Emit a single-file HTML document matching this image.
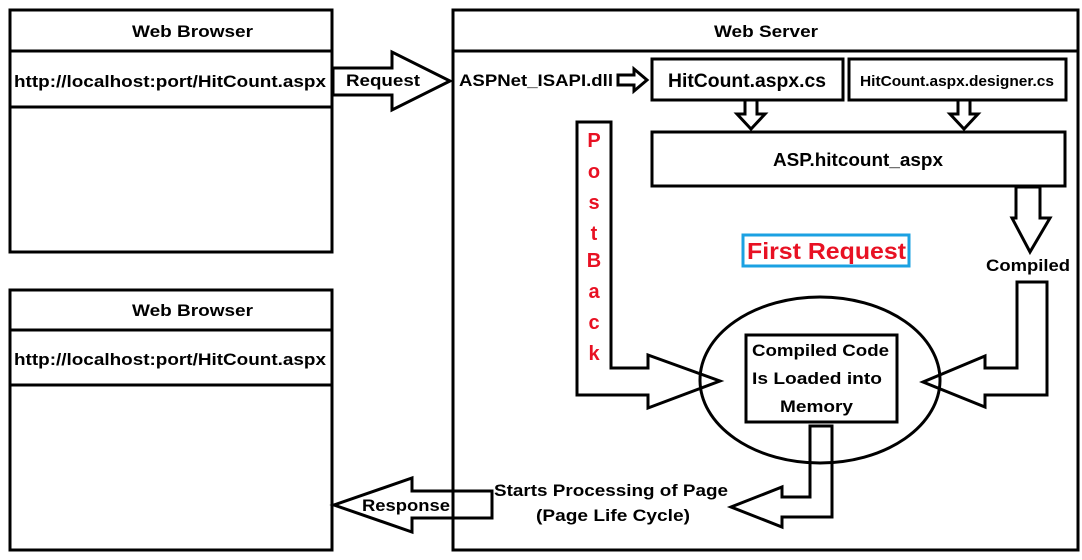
<!DOCTYPE html>
<html><head><meta charset="utf-8"><style>
html,body{margin:0;padding:0;background:#fff;}
svg{display:block;}
text{font-family:"Liberation Sans",Arial,sans-serif;font-weight:bold;fill:#000;}
</style></head><body>
<svg width="1082" height="560" viewBox="0 0 1082 560" xmlns="http://www.w3.org/2000/svg">
<g fill="none" stroke="#000" stroke-width="3">
<rect x="10" y="10" width="322" height="242"/>
<line x1="10" y1="51" x2="332" y2="51"/>
<line x1="10" y1="107" x2="332" y2="107"/>
<rect x="10" y="290" width="322" height="260"/>
<line x1="10" y1="330" x2="332" y2="330"/>
<line x1="10" y1="385" x2="332" y2="385"/>
<rect x="453" y="10" width="625" height="540"/>
<line x1="453" y1="51" x2="1078" y2="51"/>
<path d="M333,68 L392,68 L392,52 L450,81 L392,110 L392,95 L333,95 Z" fill="#fff"/>
<path d="M618,75 L634,75 L634,69 L647,80 L634,91 L634,85 L618,85 Z" fill="#fff"/>
<rect x="652" y="59" width="191" height="41"/>
<rect x="849" y="59" width="217" height="41"/>
<rect x="652" y="132" width="413" height="54"/>
<path d="M745,100 L757,100 L757,114 L765,114 L751,129 L737,114 L745,114 Z" fill="#fff"/>
<path d="M958,100 L970,100 L970,114 L978,114 L964,129 L950,114 L958,114 Z" fill="#fff"/>
<path d="M1016,187 L1040,187 L1040,218 L1050,218 L1030,252 L1012,218 L1016,218 Z" fill="#fff"/>
<ellipse cx="820" cy="380" rx="120" ry="83" stroke-width="3"/>
<path d="M577,122 L611,122 L611,368 L648,368 L648,355 L720,381 L648,408 L648,395 L577,395 Z"/>
<path d="M1047,282 L1017,282 L1017,368 L985,368 L985,356 L923,382 L985,407 L985,395 L1047,395 Z"/>
<rect x="746" y="335" width="151" height="87" fill="#fff"/>
<path d="M810,426 L832,426 L832,517 L782,517 L782,527 L731,507 L782,487 L782,497 L810,497 Z"/>
<path d="M492,491 L412,491 L412,478 L334,505 L412,532 L412,518 L492,518 Z"/>
</g>
<rect x="743" y="235" width="166" height="31" fill="#fff" stroke="#1ba1e2" stroke-width="3"/>
<text x="747" y="259" font-size="23" textLength="159" lengthAdjust="spacingAndGlyphs" style="fill:#e81123">First Request</text>

<text x="132" y="37" font-size="17" textLength="121" lengthAdjust="spacingAndGlyphs">Web Browser</text>
<text x="14" y="87" font-size="17" textLength="312" lengthAdjust="spacingAndGlyphs">http://localhost:port/HitCount.aspx</text>
<text x="132" y="316" font-size="17" textLength="121" lengthAdjust="spacingAndGlyphs">Web Browser</text>
<text x="14" y="365" font-size="17" textLength="312" lengthAdjust="spacingAndGlyphs">http://localhost:port/HitCount.aspx</text>
<text x="714" y="37" font-size="17" textLength="104" lengthAdjust="spacingAndGlyphs">Web Server</text>
<text x="346" y="86" font-size="17" textLength="74" lengthAdjust="spacingAndGlyphs">Request</text>
<text x="459" y="86" font-size="17" textLength="154" lengthAdjust="spacingAndGlyphs">ASPNet_ISAPI.dll</text>
<text x="668" y="87" font-size="19" textLength="158" lengthAdjust="spacingAndGlyphs">HitCount.aspx.cs</text>
<text x="860" y="86" font-size="15" textLength="194" lengthAdjust="spacingAndGlyphs">HitCount.aspx.designer.cs</text>
<text x="773" y="166" font-size="18" textLength="170" lengthAdjust="spacingAndGlyphs">ASP.hitcount_aspx</text>
<text x="986" y="271" font-size="17" textLength="84" lengthAdjust="spacingAndGlyphs">Compiled</text>
<text x="752" y="356" font-size="17" textLength="137" lengthAdjust="spacingAndGlyphs">Compiled Code</text>
<text x="752" y="384" font-size="17" textLength="130" lengthAdjust="spacingAndGlyphs">Is Loaded into</text>
<text x="780" y="412" font-size="17" textLength="73" lengthAdjust="spacingAndGlyphs">Memory</text>
<text x="494" y="496" font-size="17" textLength="234" lengthAdjust="spacingAndGlyphs">Starts Processing of Page</text>
<text x="536" y="521" font-size="17" textLength="154" lengthAdjust="spacingAndGlyphs">(Page Life Cycle)</text>
<text x="362" y="511" font-size="17" textLength="88" lengthAdjust="spacingAndGlyphs">Response</text>
<g font-size="20" text-anchor="middle">
<text x="594" y="147" style="fill:#e81123">P</text>
<text x="594" y="178" style="fill:#e81123">o</text>
<text x="594" y="209" style="fill:#e81123">s</text>
<text x="594" y="240" style="fill:#e81123">t</text>
<text x="594" y="267" style="fill:#e81123">B</text>
<text x="594" y="298" style="fill:#e81123">a</text>
<text x="594" y="329" style="fill:#e81123">c</text>
<text x="594" y="360" style="fill:#e81123">k</text>
</g>
</svg>
</body></html>
